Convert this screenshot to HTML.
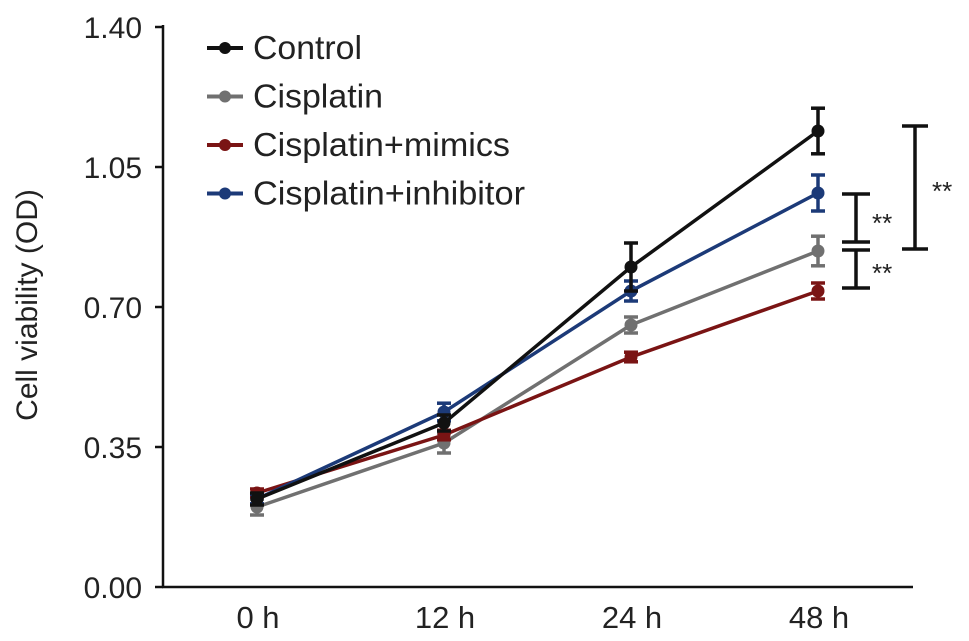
<!DOCTYPE html>
<html><head><meta charset="utf-8"><style>
body{margin:0;background:#fff}
svg{display:block;font-family:"Liberation Sans",sans-serif}
</style></head><body>
<svg id="c" width="969" height="641"></svg>
<script>
const categories=["0 h","12 h","24 h","48 h"];
const yTicks=[0,0.35,0.70,1.05,1.40];
const seriesNames=["Control","Cisplatin","Cisplatin+mimics","Cisplatin+inhibitor"];
const controlVals=[0.22,0.41,0.80,1.14];
const controlErr=[0.015,0.02,0.06,0.057];
const cisplatinVals=[0.20,0.36,0.655,0.84];
const cisplatinErr=[0.02,0.025,0.02,0.037];
const mimicsVals=[0.235,0.38,0.575,0.74];
const mimicsErr=[0.01,0.012,0.012,0.02];
const inhibitorVals=[0.22,0.4375,0.74,0.985];
const inhibitorErr=[0.012,0.022,0.025,0.045];
const colors=["#111","#707070","#7a1414","#1c3a78"];
const legendWidths=[109,130,257,272];

const svg=document.getElementById('c');
const NS="http://www.w3.org/2000/svg";
function el(t,a,p){const e=document.createElementNS(NS,t);for(const k in a)e.setAttribute(k,a[k]);(p||svg).appendChild(e);return e;}
const y=v=>587-v*400;
const x=i=>257+i*187;

let e=el('line',{x1:163,y1:25,x2:163,y2:588,stroke:'#111','stroke-width':2.5});


e=el('line',{x1:162,y1:587,x2:913,y2:587,stroke:'#111','stroke-width':2.5});


yTicks.forEach(v=>{
  el('line',{x1:155,y1:y(v),x2:163,y2:y(v),stroke:'#111','stroke-width':2.5});
  const t=el('text',{x:142,y:y(v)+11,'text-anchor':'end','font-size':30,fill:'#222'});
  t.textContent=v.toFixed(2);
  
  
});
categories.forEach((c,i)=>{
  const t=el('text',{x:x(i)+1,y:628,'text-anchor':'middle','font-size':31,fill:'#222'});
  t.textContent=c;
  
  
});
const yt=el('text',{x:0,y:0,transform:'translate(37,305) rotate(-90)','text-anchor':'middle','font-size':30,fill:'#222'});
yt.textContent="Cell viability (OD)";



const all=[[controlVals,controlErr],[cisplatinVals,cisplatinErr],[mimicsVals,mimicsErr],[inhibitorVals,inhibitorErr]];
const order=[1,2,3,0];
order.forEach(s=>{
  const [vals,err]=all[s];const col=colors[s];
  const g=el('g',{});
  
  
  el('polyline',{points:vals.map((v,i)=>x(i)+','+y(v)).join(' '),fill:'none',stroke:col,'stroke-width':3.5},g);
  vals.forEach((v,i)=>{
    const t=y(v+err[i]),b=y(v-err[i]);
    el('line',{x1:x(i),y1:t,x2:x(i),y2:b,stroke:col,'stroke-width':3.5},g);
    el('line',{x1:x(i)-7,y1:t,x2:x(i)+7,y2:t,stroke:col,'stroke-width':3.5},g);
    el('line',{x1:x(i)-7,y1:b,x2:x(i)+7,y2:b,stroke:col,'stroke-width':3.5},g);
    const m=el('circle',{cx:x(i),cy:y(v),r:6.5,fill:col},g);
    
    
  });
});

// legend
seriesNames.forEach((n,i)=>{
  const ly=48+i*48.5;
  const g=el('g',{});
  
  
  el('line',{x1:207,y1:ly,x2:243,y2:ly,stroke:colors[i],'stroke-width':4},g);
  el('circle',{cx:225,cy:ly,r:6,fill:colors[i]},g);
  const t=el('text',{x:253,y:ly+11,'font-size':33,fill:'#222',textLength:legendWidths[i],lengthAdjust:'spacingAndGlyphs'},g);
  t.textContent=n;
});

// significance brackets
function bracket(cx,y1,y2,w,tx,ty,name){
  const g=el('g',{});
  
  
  el('line',{x1:cx,y1:y1,x2:cx,y2:y2,stroke:'#111','stroke-width':3.5},g);
  el('line',{x1:cx-w,y1:y1,x2:cx+w,y2:y1,stroke:'#111','stroke-width':3.5},g);
  el('line',{x1:cx-w,y1:y2,x2:cx+w,y2:y2,stroke:'#111','stroke-width':3.5},g);
  const t=el('text',{x:tx,y:ty,'font-size':26,fill:'#222'},g);
  t.textContent="**";
}
bracket(915,126,249,13,932,200,'significance-bracket-control');
bracket(856,194,242,14,872,232,'significance-bracket-inhibitor');
bracket(856,250,288,14,872,282,'significance-bracket-mimics');
</script>
</body></html>
